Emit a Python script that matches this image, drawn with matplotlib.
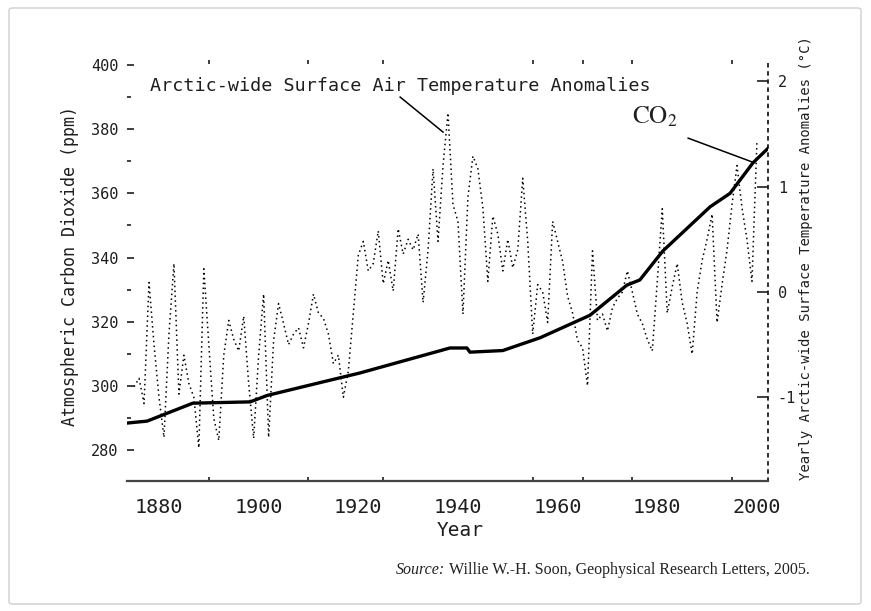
import numpy as np
import matplotlib
matplotlib.use('Agg')
import matplotlib.pyplot as plt
from matplotlib.patches import FancyBboxPatch
from matplotlib.ticker import FixedLocator

# ---------------- data ----------------
temp_anomaly = [
    -0.90, -0.82, -1.06, 0.09, -0.50,            # 1875-1879
    -1.00, -1.38, -0.40, 0.27, -0.97,            # 1880-1884
    -0.60, -0.87, -1.00, -1.48, 0.22,            # 1885-1889
    -0.50, -1.20, -1.41, -0.60, -0.27,           # 1890-1894
    -0.45, -0.56, -0.23, -0.87, -1.39,           # 1895-1899
    -0.60, -0.02, -1.38, -0.46, -0.11,           # 1900-1904
    -0.30, -0.50, -0.40, -0.34, -0.53,           # 1905-1909
    -0.30, -0.02, -0.20, -0.25, -0.40,           # 1910-1914
    -0.68, -0.60, -1.00, -0.75, -0.20,           # 1915-1919
    0.35, 0.48, 0.20, 0.27, 0.58,                # 1920-1924
    0.08, 0.30, 0.01, 0.60, 0.36,                # 1925-1929
    0.50, 0.40, 0.55, -0.10, 0.40,               # 1930-1934
    1.17, 0.48, 1.20, 1.70, 0.83,                # 1935-1939
    0.67, -0.21, 0.90, 1.29, 1.17,               # 1940-1944
    0.80, 0.10, 0.72, 0.55, 0.20,                # 1945-1949
    0.50, 0.23, 0.40, 1.08, 0.48,                # 1950-1954
    -0.40, 0.07, 0.00, -0.29, 0.67,              # 1955-1959
    0.48, 0.29, -0.04, -0.20, -0.46,             # 1960-1964
    -0.53, -0.89, 0.39, -0.27, -0.21,            # 1965-1969
    -0.37, -0.15, -0.06, 0.00, 0.20,             # 1970-1974
    0.00, -0.21, -0.30, -0.45, -0.56,            # 1975-1979
    0.10, 0.79, -0.20, 0.05, 0.27,               # 1980-1984
    -0.10, -0.30, -0.59, 0.00, 0.30,             # 1985-1989
    0.50, 0.74, -0.29, 0.07, 0.40,               # 1990-1994
    0.83, 1.20, 0.80, 0.50, 0.10,                # 1995-1999
    1.43,                                        # 2000
]
temp_years = list(range(1875, 1875 + len(temp_anomaly)))

co2_years = [1873.6, 1877.6, 1886.8, 1898.3, 1901.7, 1912.3, 1920.3, 1938.4,
             1941.8, 1942.4, 1949.0, 1956.5, 1966.5, 1973.9, 1976.5, 1981.1,
             1990.6, 1994.6, 1999.2, 2002.2]
co2_ppm = [288.4, 289.0, 294.6, 295.0, 297.0, 301.0, 304.0, 311.8,
           311.8, 310.5, 311.0, 315.0, 322.0, 331.4, 333.0, 342.0,
           355.8, 360.0, 369.5, 374.0]

x_tick_years = [1880, 1900, 1920, 1940, 1960, 1980, 2000]
x_minor_years = [1890, 1910, 1925, 1940, 1955, 1965, 1975, 1995]
co2_ticks = [280, 300, 320, 340, 360, 380, 400]
co2_minor = [290, 310, 330, 350, 370, 390]
temp_ticks = [-1, 0, 1, 2]

# ---------------- figure ----------------
W, H = 871, 611
fig = plt.figure(figsize=(W / 100, H / 100), dpi=100)
fig.patch.set_facecolor('white')

def fx(px):
    return px / W

def fy(py):
    return 1 - py / H

# outer light frame
frame = FancyBboxPatch((fx(9), fy(604)), fx(852), (604 - 8) / H,
                       boxstyle='round,pad=0,rounding_size=0.004',
                       transform=fig.transFigure, facecolor='none',
                       edgecolor='#cfcfcf', lw=1.0)
fig.patches.append(frame)

ax = fig.add_axes([fx(127), fy(481), (768 - 127) / W, (481 - 60) / H])
ax2 = ax.twinx()
ax.set_zorder(ax2.get_zorder() + 1)
ax.patch.set_visible(False)

mono = 'DejaVu Sans Mono'
ink = '#1e1e1e'

ax.plot(co2_years, co2_ppm, color='black', lw=2.4, zorder=3)
ax2.plot(temp_years, temp_anomaly, color='black', lw=1.1,
         linestyle=(0, (1, 2.2)), zorder=2)

ax.set_xlim(1873.58, 2002.22)
ax.set_ylim(270.34, 401.56)
ax2.set_ylim(-1.795, 2.203)

# spines
for s in ['left', 'top', 'right']:
    ax.spines[s].set_visible(False)
ax.spines['bottom'].set_color('#444444')
ax.spines['bottom'].set_linewidth(1.6)
for s in ['left', 'top', 'bottom']:
    ax2.spines[s].set_visible(False)
ax2.spines['right'].set_linestyle((0, (1.5, 3)))
ax2.spines['right'].set_linewidth(1.3)
ax2.spines['right'].set_color(ink)

# x ticks
ax.set_xticks(x_tick_years)
ax.set_xticklabels([str(v) for v in x_tick_years], family=mono, fontsize=14.5, color=ink)
ax.tick_params(axis='x', which='major', length=0, pad=12)
ax.xaxis.set_minor_locator(FixedLocator(x_minor_years))
ax.tick_params(axis='x', which='minor', direction='in', length=3, width=1.2,
               top=True, bottom=True, color=ink)

# left y ticks
ax.set_yticks(co2_ticks)
ax.set_yticklabels([str(v) for v in co2_ticks], family=mono, fontsize=11, color=ink)
ax.tick_params(axis='y', which='major', direction='in', length=5, width=1.2, pad=6, color=ink)
ax.yaxis.set_minor_locator(FixedLocator(co2_minor))
ax.tick_params(axis='y', which='minor', direction='in', length=3, width=1.2, color=ink)

# right y ticks
ax2.set_yticks(temp_ticks)
ax2.set_yticklabels(['-1', '0', '1', '2'], family=mono, fontsize=11, color=ink)
ax2.tick_params(axis='y', direction='in', length=8, width=1.2, pad=7, color=ink)

# axis titles
fig.text(fx(70), fy(266), 'Atmospheric Carbon Dioxide (ppm)', rotation=90,
         ha='center', va='center', family=mono, fontsize=12, color=ink)
fig.text(fx(806), fy(258), 'Yearly Arctic-wide Surface Temperature Anomalies (\u00b0C)',
         rotation=90, ha='center', va='center', family=mono, fontsize=10, color=ink)
fig.text(fx(460), fy(530), 'Year', ha='center', va='center', family=mono,
         fontsize=14, color=ink)

# annotations
ax.text(1878.2, 393.5, 'Arctic-wide Surface Air Temperature Anomalies',
        ha='left', va='center', family=mono, fontsize=13.2, color=ink)
ax.plot([1928.4, 1937.0], [390.0, 379.1], color='black', lw=1.1)

plt.rcParams['mathtext.fontset'] = 'stix'
ax.text(1979.5, 383.8, r'$\mathrm{CO}_2$', ha='center', va='center',
        fontsize=18, color=ink)
ax.plot([1986.2, 1999.0], [377.2, 369.8], color='black', lw=1.1)

# source line
t2 = fig.text(fx(810), fy(570), 'Willie W.-H. Soon, Geophysical Research Letters, 2005.',
              ha='right', va='center', family='Liberation Serif', fontsize=11.5, color='#222222')
fig.canvas.draw()
bb = t2.get_window_extent()
fig.text(bb.x0 / W - fx(4), fy(570), 'Source:', ha='right', va='center',
         family='Liberation Serif', style='italic', fontsize=11.5, color='#222222')

fig.savefig('out.png', dpi=100, facecolor='white')
